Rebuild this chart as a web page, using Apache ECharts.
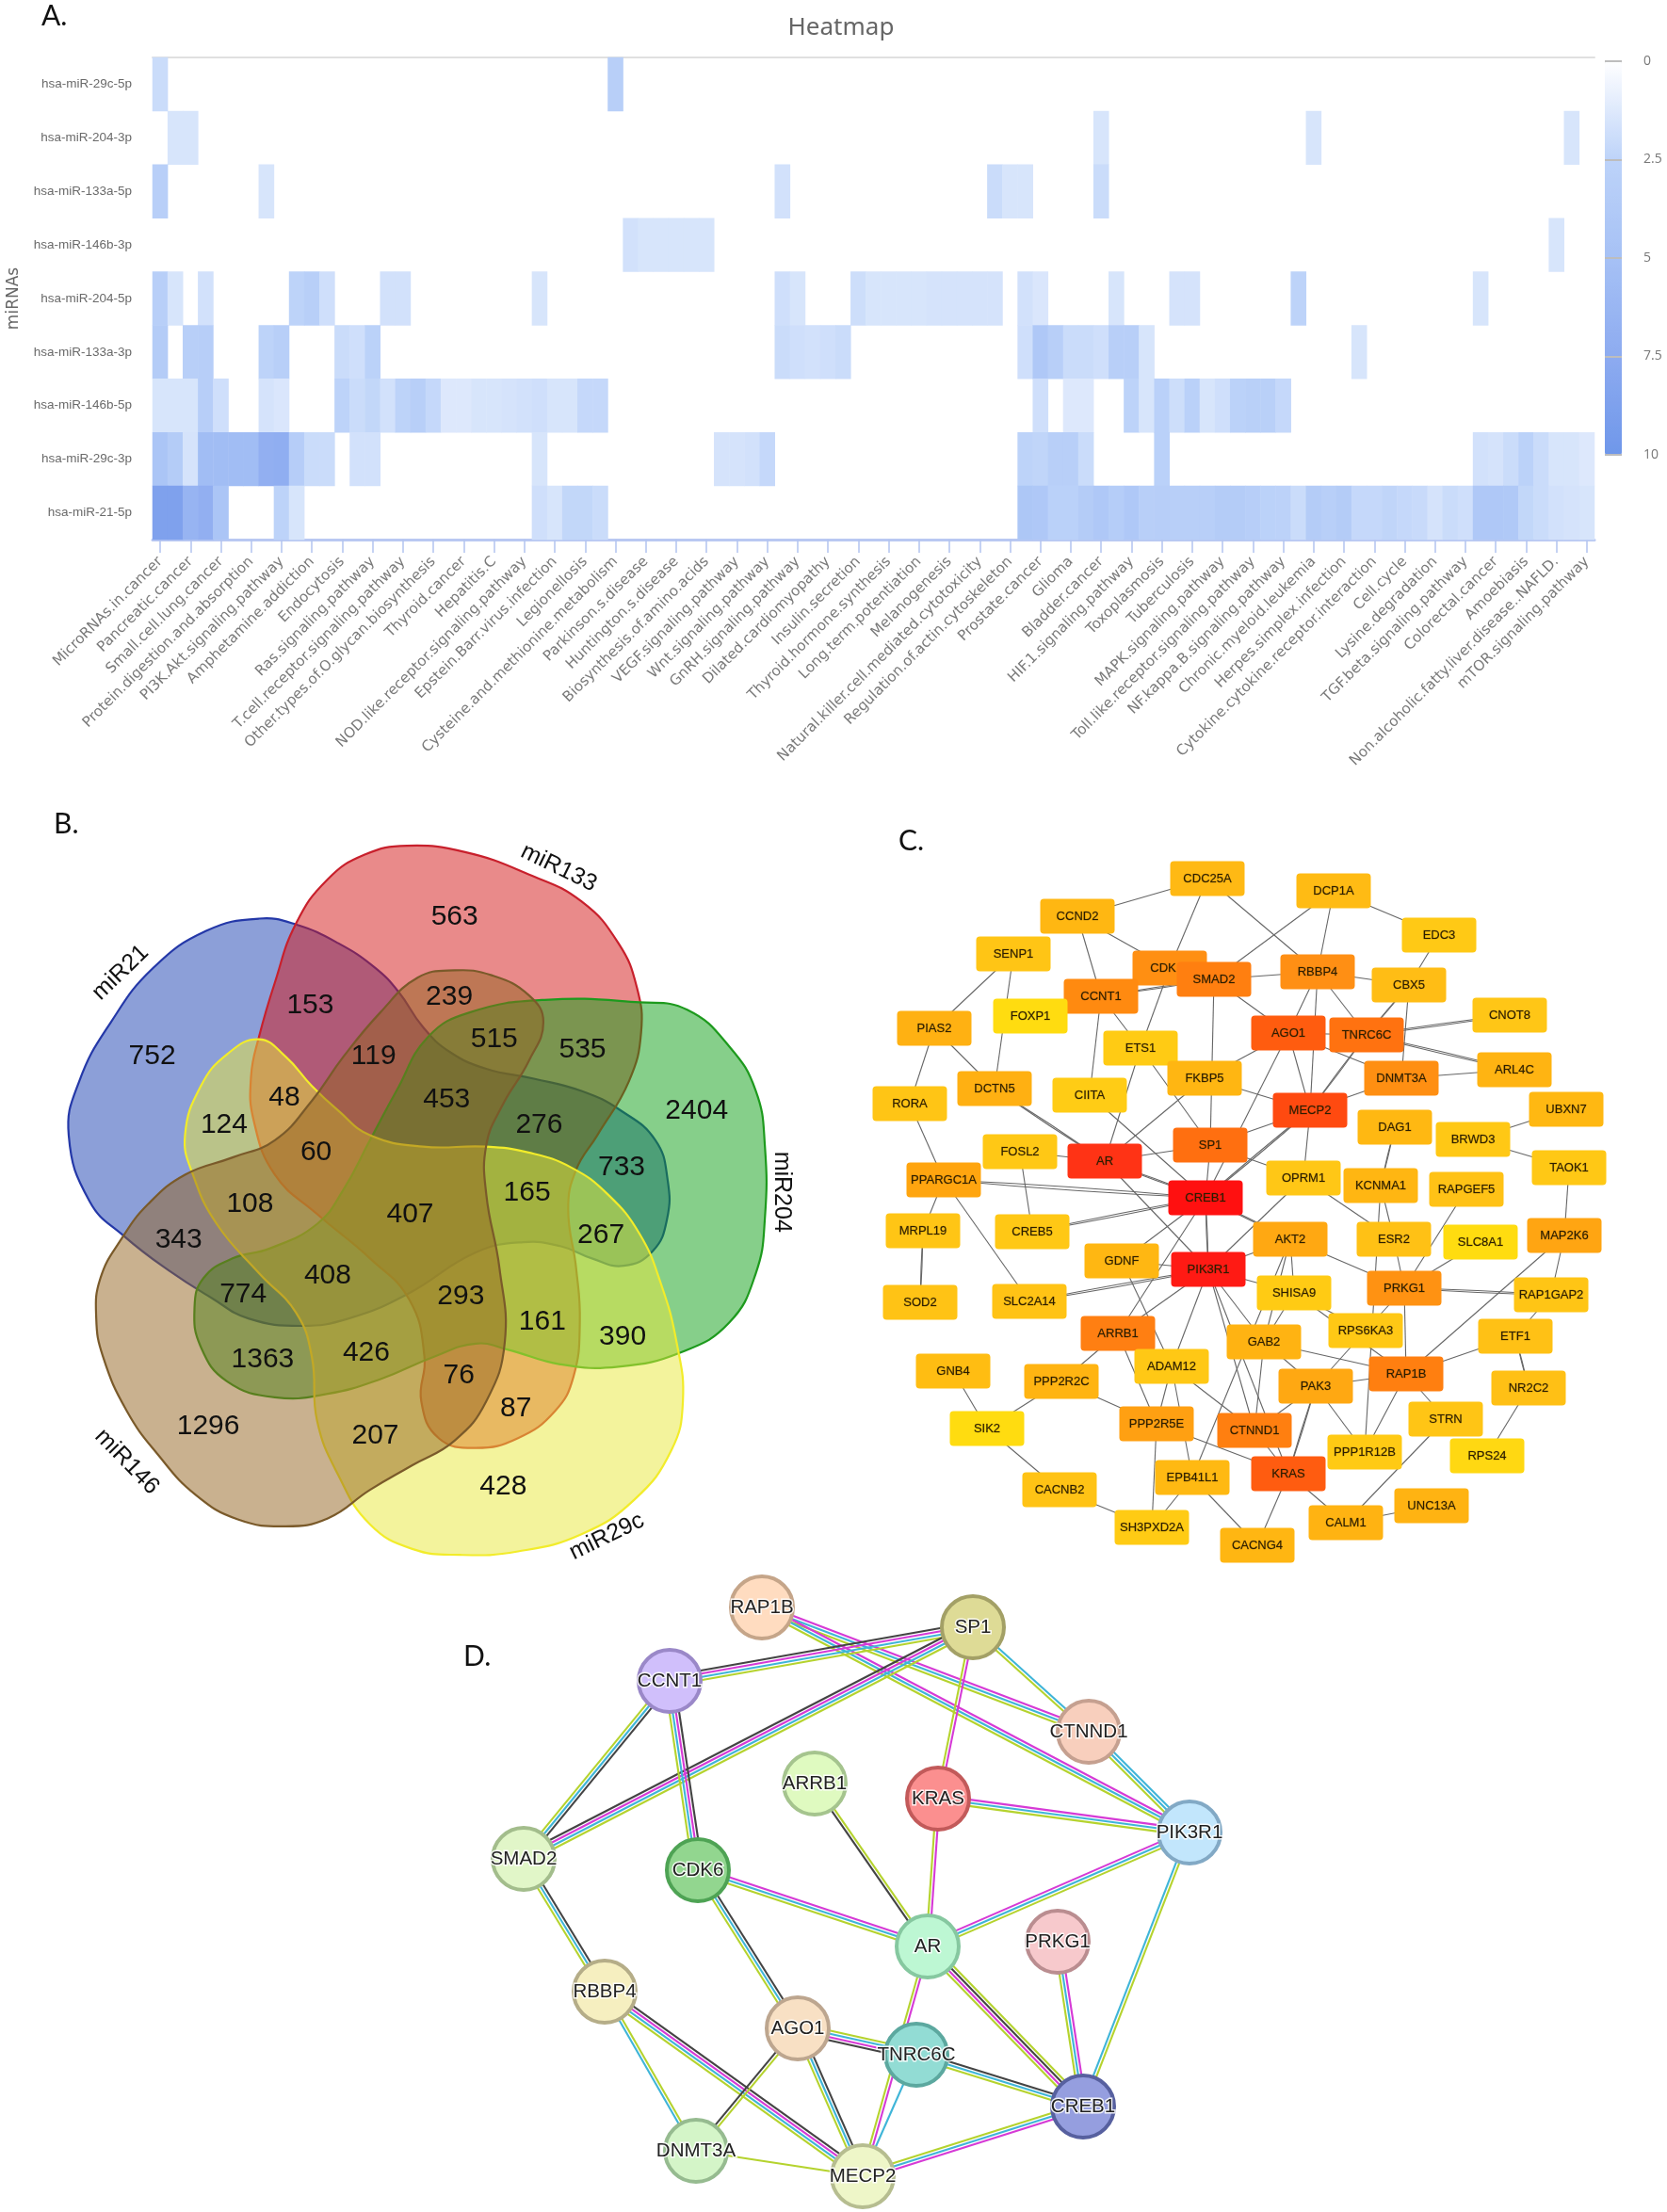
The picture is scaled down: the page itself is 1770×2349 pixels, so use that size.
<!DOCTYPE html>
<html><head><meta charset="utf-8">
<style>html,body{margin:0;padding:0;background:#fff}#c{width:1770px;height:2349px}</style>
<script src="https://cdn.jsdelivr.net/npm/echarts@6/dist/echarts.min.js"></script>
</head><body><div id="c"></div>
<script>
/* ---------- Panel A: heatmap ---------- */
const pathwayLabels = ['MicroRNAs.in.cancer','Pancreatic.cancer','Small.cell.lung.cancer','Protein.digestion.and.absorption','PI3K.Akt.signaling.pathway','Amphetamine.addiction','Endocytosis','Ras.signaling.pathway','T.cell.receptor.signaling.pathway','Other.types.of.O.glycan.biosynthesis','Thyroid.cancer','Hepatitis.C','NOD.like.receptor.signaling.pathway','Epstein.Barr.virus.infection','Legionellosis','Cysteine.and.methionine.metabolism','Parkinson.s.disease','Huntington.s.disease','Biosynthesis.of.amino.acids','VEGF.signaling.pathway','Wnt.signaling.pathway','GnRH.signaling.pathway','Dilated.cardiomyopathy','Insulin.secretion','Thyroid.hormone.synthesis','Long.term.potentiation','Melanogenesis','Natural.killer.cell.mediated.cytotoxicity','Regulation.of.actin.cytoskeleton','Prostate.cancer','Glioma','Bladder.cancer','HIF.1.signaling.pathway','Toxoplasmosis','Tuberculosis','MAPK.signaling.pathway','Toll.like.receptor.signaling.pathway','NF.kappa.B.signaling.pathway','Chronic.myeloid.leukemia','Herpes.simplex.infection','Cytokine.cytokine.receptor.interaction','Cell.cycle','Lysine.degradation','TGF.beta.signaling.pathway','Colorectal.cancer','Amoebiasis','Non.alcoholic.fatty.liver.disease..NAFLD.','mTOR.signaling.pathway'];
const mirnaLabels = ['hsa-miR-29c-5p','hsa-miR-204-3p','hsa-miR-133a-5p','hsa-miR-146b-3p','hsa-miR-204-5p','hsa-miR-133a-3p','hsa-miR-146b-5p','hsa-miR-29c-3p','hsa-miR-21-5p'];
/* each row: [first column, [values...]] runs; everything else is 0 */
const row29c5p  = [[0,[2]],[30,[3]]];
const row2043p  = [[1,[1.5,1.5]],[62,[1.5]],[76,[1.5]],[93,[1.5]]];
const row133a5p = [[0,[3]],[7,[1.5]],[41,[1.7]],[55,[2,1.5,1.5]],[62,[2]]];
const row146b3p = [[31,[1.7,1.5,1.5,1.5,1.5,1.5]],[92,[1.5]]];
const row2045p  = [[0,[3,1.5]],[3,[1.7]],[9,[2.5,3,1.8]],[15,[1.7,1.7]],[25,[1.5]],[41,[1.8,1.5]],[46,[1.9,1.5,1.5,1.5,1.5,1.6,1.6,1.6,1.6,1.6]],[57,[1.7,1.4]],[63,[1.5]],[67,[1.6,1.6]],[75,[2.5]],[87,[1.5]]];
const row133a3p = [[0,[3.5]],[2,[3,3.2]],[7,[2.5,3]],[12,[2,1.8,2.7]],[41,[2,1.8,1.7,1.8,2]],[57,[1.8,4,3,2,2,1.8,3,3,1.5]],[79,[1.5]]];
const row146b5p = [[0,[1.5,1.5,1.5,3.2,1.8]],[7,[1.6,1.4]],[12,[2.5,2,2.3,1.7,2.5,3,2.2,1.3,1.3,1.5,1.5,1.6,1.7,1.8,1.5,1.5,2.2,2.2]],[58,[1.8]],[60,[1.3,1.3]],[64,[2.5,1.5,2.8,1.9,2.8,1.5,1.8,2.7,2.9,2.9,2.2]]];
const row29c3p  = [[0,[4.5,3.5,1.6,5.5,5.5,5.5,5.5,7,7.2,3.3,2,2]],[13,[1.7,1.7]],[25,[1.5]],[37,[1.6,1.6,1.7,2.2]],[57,[2.5,2.4,3,3,2]],[66,[2.8]],[87,[1.7,1.6,2,2.7,2,1.5,1.5,1.3]]];
const row215p   = [[0,[8.7,8.7,6.5,7,4.5]],[8,[2.5,1.5]],[25,[1.8,1.5,2.3,2.3,2]],[57,[4.2,4,2.8,2.8,3.5,4,3.4,4,3,3.2,3,3,3,3.5,3.5,3.2,2.7,2.6,2,3.5,3,3.5,2.2,2.2,2.4,2.2,2.1,1.6,2,1.8,4,4,3.9,2.3,2,1.7,1.6,1.5]]];
const heatRows = [row29c5p,row2043p,row133a5p,row146b3p,row2045p,row133a3p,row146b5p,row29c3p,row215p];

/* ---------- Panel B: five-set Venn ---------- */
const vennSets = ['miR21','miR133','miR204','miR146','miR29c'];
const vennCounts = [752,153,563,239,515,535,119,48,124,60,453,276,2404,733,108,407,165,267,343,408,774,293,161,390,426,1363,76,87,1296,207,428];

/* ---------- Panel C: PPI network ---------- */
const ppiGenes = ['CDC25A','DCP1A','CCND2','EDC3','SENP1','CDK6','SMAD2','RBBP4','CBX5','CCNT1','FOXP1','PIAS2','AGO1','TNRC6C','CNOT8','ETS1','ARL4C','FKBP5','DNMT3A','DCTN5','CIITA','RORA','MECP2','UBXN7','DAG1','BRWD3','FOSL2','SP1','AR','TAOK1','PPARGC1A','OPRM1','KCNMA1','RAPGEF5','CREB1','MRPL19','CREB5','AKT2','ESR2','SLC8A1','MAP2K6','GDNF','PIK3R1','PRKG1','SHISA9','RAP1GAP2','SOD2','SLC2A14','RPS6KA3','ARRB1','ETF1','GAB2','ADAM12','GNB4','RAP1B','PPP2R2C','NR2C2','PAK3','STRN','PPP2R5E','CTNND1','SIK2','PPP1R12B','RPS24','KRAS','EPB41L1','CACNB2','UNC13A','CALM1','SH3PXD2A','CACNG4'];
const ppiEdges = 'CDC25A-CCND2 CDC25A-CDK6 CDC25A-RBBP4 CCND2-CDK6 CCND2-CCNT1 DCP1A-SMAD2 DCP1A-RBBP4 DCP1A-EDC3 EDC3-CBX5 SENP1-PIAS2 SENP1-DCTN5 CDK6-ETS1 CDK6-CCNT1 SMAD2-RBBP4 CCNT1-SMAD2 RBBP4-CBX5 RBBP4-AGO1 RBBP4-MECP2 RBBP4-TNRC6C SMAD2-AGO1 SMAD2-SP1 CBX5-TNRC6C CBX5-DNMT3A TNRC6C-CNOT8 TNRC6C-ARL4C DNMT3A-ARL4C AGO1-TNRC6C AGO1-DNMT3A AGO1-MECP2 AGO1-FKBP5 AGO1-CREB1 TNRC6C-MECP2 DNMT3A-MECP2 CCNT1-ETS1 CCNT1-CIITA ETS1-AR ETS1-SP1 PIAS2-RORA PIAS2-DCTN5 RORA-PPARGC1A DCTN5-AR FKBP5-MECP2 FKBP5-AR CIITA-CREB1 FOSL2-AR FOSL2-CREB5 AR-SP1 AR-CREB1 AR-PIK3R1 PPARGC1A-CREB1 PPARGC1A-MRPL19 PPARGC1A-SLC2A14 MRPL19-SOD2 SP1-MECP2 SP1-CREB1 SP1-OPRM1 MECP2-CREB1 MECP2-OPRM1 DAG1-KCNMA1 UBXN7-BRWD3 BRWD3-TAOK1 TAOK1-MAP2K6 OPRM1-ESR2 OPRM1-PIK3R1 CREB5-CREB1 CREB1-PIK3R1 CREB1-AKT2 CREB1-GDNF CREB1-ARRB1 GDNF-PIK3R1 GDNF-ADAM12 PIK3R1-AKT2 PIK3R1-SLC2A14 PIK3R1-SHISA9 PIK3R1-ARRB1 PIK3R1-ADAM12 PIK3R1-GAB2 PIK3R1-CTNND1 PIK3R1-KRAS AKT2-PRKG1 AKT2-GAB2 AKT2-SHISA9 AKT2-EPB41L1 KCNMA1-ESR2 KCNMA1-PPP1R12B ESR2-PRKG1 RAPGEF5-PRKG1 SLC8A1-PRKG1 MAP2K6-RAP1GAP2 MAP2K6-RAP1B PRKG1-RAP1GAP2 PRKG1-RPS6KA3 PRKG1-RAP1B SHISA9-RPS6KA3 SHISA9-RAP1B SHISA9-GAB2 RAP1GAP2-ETF1 ETF1-RAP1B ETF1-NR2C2 GAB2-RAP1B GAB2-CTNND1 GAB2-PAK3 ARRB1-PPP2R2C ARRB1-PPP2R5E ADAM12-PPP2R5E ADAM12-CTNND1 ADAM12-EPB41L1 PPP2R2C-PPP2R5E PPP2R2C-SIK2 GNB4-SIK2 SIK2-CACNB2 CACNB2-SH3PXD2A EPB41L1-SH3PXD2A EPB41L1-CACNG4 PPP2R5E-SH3PXD2A PPP2R5E-KRAS CTNND1-KRAS KRAS-CACNG4 KRAS-CALM1 UNC13A-CALM1 STRN-CALM1 STRN-RAP1B RAP1B-PPP1R12B RAP1B-PAK3 PAK3-CTNND1 PAK3-PPP1R12B PAK3-KRAS RPS6KA3-PAK3 NR2C2-RPS24'.split(' ');
const ppiMultiEdges = ['CDK6-CCNT1','CCNT1-SMAD2','CBX5-TNRC6C','TNRC6C-CNOT8','TNRC6C-ARL4C','TNRC6C-MECP2','DCTN5-AR','AR-CREB1','PPARGC1A-CREB1','MRPL19-SOD2','MECP2-CREB1','DAG1-KCNMA1','CREB5-CREB1','CREB1-PIK3R1','CREB1-AKT2','PIK3R1-SLC2A14','PRKG1-RAP1GAP2','ETF1-NR2C2','PAK3-KRAS'];

/* ---------- Panel D: STRING network ---------- */
const stringGenes = ['RAP1B','SP1','CCNT1','CTNND1','ARRB1','KRAS','PIK3R1','SMAD2','CDK6','AR','PRKG1','RBBP4','AGO1','TNRC6C','CREB1','DNMT3A','MECP2'];
/* evidence channels per edge: k black, m magenta, c cyan, g green */
const stringEdges = [['RAP1B','CTNND1','mcg'],['RAP1B','PIK3R1','mcg'],['SP1','CTNND1','cg'],['CCNT1','SP1','kmcg'],['SMAD2','SP1','kmcg'],['SP1','KRAS','mg'],['SMAD2','CCNT1','gck'],['CCNT1','CDK6','kmcg'],['CTNND1','PIK3R1','ccg'],['KRAS','PIK3R1','mcg'],['KRAS','AR','mg'],['ARRB1','AR','gk'],['CDK6','AR','mcg'],['CDK6','AGO1','kcg'],['AR','PIK3R1','mcg'],['PIK3R1','CREB1','gc'],['PRKG1','CREB1','mcg'],['AR','CREB1','gkmg'],['AR','MECP2','mg'],['SMAD2','RBBP4','kcg'],['RBBP4','MECP2','kmcg'],['RBBP4','DNMT3A','gc'],['AGO1','TNRC6C','gcmk'],['AGO1','MECP2','kcg'],['AGO1','DNMT3A','gk'],['TNRC6C','CREB1','kcg'],['TNRC6C','MECP2','c'],['MECP2','CREB1','gcm'],['DNMT3A','MECP2','g']];

/* ---------- layout and style (kept apart from the data) ---------- */
const heatColors = ['#ffffff','#bdd3f9','#a6c1f5','#8dabf0','#6f97ea'];
const vennOutlines = [
 [[490,240],[560,252],[640,290],[710,340],[755,390],[800,460],[850,510],[920,545],[1010,565],[1100,590],[1175,630],[1240,690],[1263,770],[1262,850],[1235,915],[1180,945],[1120,930],[1060,905],[990,897],[900,918],[770,1003],[660,1052],[570,1067],[470,1052],[400,1010],[320,955],[235,885],[170,815],[130,680],[150,570],[210,450],[290,340],[390,265]],
 [[770,92],[880,105],[1000,150],[1100,205],[1170,290],[1205,380],[1213,470],[1190,570],[1130,680],[1090,750],[1075,830],[1090,950],[1097,1060],[1085,1170],[1050,1240],[980,1295],[900,1315],[830,1295],[797,1220],[803,1130],[775,1015],[700,930],[600,840],[520,760],[480,650],[475,560],[490,480],[520,370],[560,250],[620,160],[690,110]],
 [[1030,405],[1210,410],[1300,425],[1380,500],[1430,590],[1447,700],[1447,850],[1430,960],[1380,1060],[1290,1120],[1170,1150],[1060,1145],[960,1115],[900,1103],[820,1130],[720,1175],[620,1205],[520,1212],[430,1180],[380,1110],[368,1030],[385,970],[440,930],[510,910],[600,860],[650,790],[700,690],[750,590],[810,480],[890,430]],
 [[540,1474],[620,1458],[700,1400],[780,1350],[860,1300],[920,1220],[955,1100],[945,950],[920,800],[920,700],[950,620],[1000,530],[1028,450],[1000,395],[930,355],[860,345],[790,360],[720,430],[650,520],[590,610],[520,690],[440,725],[350,760],[280,820],[230,890],[190,970],[182,1050],[195,1130],[240,1240],[300,1330],[370,1410],[450,1460]],
 [[870,1532],[980,1525],[1100,1490],[1200,1420],[1270,1320],[1292,1220],[1280,1100],[1250,980],[1210,880],[1150,800],[1080,745],[1000,715],[920,703],[800,703],[700,680],[640,630],[590,580],[540,520],[490,485],[430,515],[380,580],[350,680],[365,760],[410,860],[490,960],[560,1040],[590,1130],[600,1260],[640,1370],[700,1470],[780,1520]]
];
const vennFills = ['rgba(25,64,177,.5)','rgba(211,21,21,.5)','rgba(13,159,21,.5)','rgba(147,99,31,.5)','rgba(231,231,57,.5)'];
const vennStrokes = ['#2438a8','#c8202c','#1d9a1d','#7a5a2a','#f2ec2a'];
const vennDrawOrder = [0,1,2,4,3];
const vennCountXY = [[288,520],[587,417],[860,237],[850,400],[935,486],[1102,507],[707,520],[538,603],[424,660],[598,714],[845,607],[1020,660],[1318,630],[1176,746],[473,820],[776,840],[997,797],[1137,882],[338,892],[620,966],[460,1003],[872,1008],[1026,1058],[1178,1090],[693,1122],[497,1135],[868,1167],[976,1235],[394,1272],[710,1290],[952,1393]];
const vennSetXY = [[228,350,44],[1057,137,-26],[1478,795,-90],[240,1343,-46],[1148,1495,26]];
const ppiXY = [[1282,933],[1416,946],[1144,973],[1528,993],[1076,1013],[1242,1028],[1289,1040],[1399,1032],[1496,1046],[1169,1058],[1094,1079],[992,1092],[1368,1097],[1451,1099],[1603,1078],[1211,1113],[1608,1136],[1279,1145],[1488,1145],[1056,1156],[1157,1163],[966,1172],[1391,1179],[1663,1178],[1481,1197],[1564,1210],[1083,1223],[1285,1216],[1173,1233],[1666,1240],[1002,1253],[1384,1251],[1466,1259],[1557,1263],[1280,1272],[980,1307],[1096,1308],[1370,1316],[1480,1316],[1572,1319],[1661,1312],[1191,1339],[1283,1348],[1491,1368],[1374,1373],[1647,1375],[977,1383],[1093,1382],[1450,1413],[1187,1416],[1609,1419],[1342,1425],[1244,1451],[1012,1456],[1493,1459],[1127,1467],[1623,1474],[1397,1472],[1535,1507],[1228,1512],[1332,1519],[1048,1517],[1449,1542],[1579,1546],[1368,1565],[1266,1569],[1125,1582],[1520,1599],[1429,1617],[1223,1622],[1335,1641]];
const ppiColors = ['#ffb914','#ffbb14','#ffb712','#ffc915','#ffc515','#ff8f12','#ff7f10','#ff8f14','#ffbd15','#ff8a10','#ffdc10','#ffb112','#ff5c0f','#ff7210','#ffc616','#ffcb14','#ffb412','#ffb612','#ff8f12','#ffb012','#ffcc15','#ffc515','#ff4a10','#ffb812','#ffb812','#ffc815','#ffc815','#ff6f10','#ff3315','#ffc815','#ffa50f','#ffc716','#ffb612','#ffc216','#ff1010','#ffc515','#ffc815','#ffa812','#ffc115','#ffdc10','#ffa512','#ffb712','#ff1a14','#ff9212','#ffcb14','#ffc515','#ffc315','#ffc315','#ffc815','#ff7f12','#ffc115','#ffb312','#ffc815','#ffbd12','#ff7f10','#ffb412','#ffc015','#ffa812','#ffc515','#ffa012','#ff7f10','#ffdc10','#ffca14','#ffd812','#ff5c10','#ffb912','#ffc315','#ffb312','#ffb312','#ffcb14','#ffb612'];
const ppiNodePath = 'path://M4,0H75A4,4 0 0 1 79,4V33A4,4 0 0 1 75,37H4A4,4 0 0 1 0,33V4A4,4 0 0 1 4,0Z';
const stringXY = [[809,1707],[1033,1728],[711,1785],[1156,1839],[865,1894],[996,1910],[1263,1946],[556,1974],[741,1986],[985,2067],[1123,2062],[642,2115],[847,2154],[973,2182],[1150,2237],[739,2284],[916,2311]];
const stringFills = ['#ffdcc0','#dedb96','#d0bffb','#f8cfbd','#dffac0','#fb8f8f','#c2e6fc','#e1f6c8','#92d68f','#bdf7d3','#f7c9cc','#f6efc0','#f8e0c4','#92dcd4','#959edf','#d4f5c8','#eef6c8'];
const stringBorders = ['#c5a589','#a3a066','#9a88c8','#c5a090','#a5c48e','#c25a5a','#82a9c5','#a3bd8c','#4ea354','#86c8a0','#ba8d90','#b5ad88','#bda68f','#5ca89f','#57609f','#96bb90','#b6bd90'];
const channelColors = {k:'#444444',m:'#d63ad6',c:'#3fb5d8',g:'#b5d32e'};
const panelLetters = [['A.',44,17],['B.',57,875],['C.',954,893],['D.',492,1759]];

/* ---------- build ---------- */
const categories = [];
pathwayLabels.forEach((l,i)=>{categories.push(l); if(i<pathwayLabels.length-1) categories.push('');});
const heatData = [];
heatRows.forEach((runs,r)=>runs.forEach(([start,vals])=>vals.forEach((v,k)=>heatData.push([start+k,r,v]))));
const ppiLinks = [];
ppiEdges.forEach(e=>{const [s,t]=e.split('-');
  if(ppiMultiEdges.includes(e)){ppiLinks.push({source:s,target:t,lineStyle:{curveness:0.012}},{source:s,target:t,lineStyle:{curveness:-0.012}});}
  else ppiLinks.push({source:s,target:t});});

const pageAxisX = i=>({gridIndex:i,type:'value',show:false,min:0,max:1770});
const pageAxisY = i=>({gridIndex:i,type:'value',show:false,min:0,max:2349,inverse:true});
const sans = 'Liberation Sans';
const vennGeom = (i,api)=>vennOutlines[i].map(q=>api.coord(q));

const option = {
 animation:false, backgroundColor:'#fff',
 title:{text:'Heatmap',left:888,top:12,textAlign:'center',textStyle:{fontFamily:'Noto Sans',fontSize:26,fontWeight:'normal',color:'#666'}},
 graphic:panelLetters.map(([t,x,y])=>({type:'text',x,y,z:20,style:{text:t,fontFamily:'Lato',fontSize:30,fill:'#111',textVerticalAlign:'middle'}})),
 visualMap:{type:'continuous',seriesIndex:0,min:0,max:10,left:1704,top:65,itemWidth:18,itemHeight:418,padding:0,inverse:true,calculable:false,text:null,inRange:{color:heatColors}},
 grid:[
  {left:162,top:61,width:1531,height:512,outerBoundsMode:'none'},
  {left:1704,top:65,width:18,height:418,outerBoundsMode:'none'},
  {left:0,top:850,width:880,height:820,outerBoundsMode:'none'},
  {left:0,top:0,width:1770,height:2349,outerBoundsMode:'none'}
 ],
 xAxis:[
  {gridIndex:0,type:'category',data:categories,position:'bottom',axisLine:{lineStyle:{color:'#b9c8f2',width:3}},
   axisTick:{show:true,interval:1,alignWithLabel:true,length:14,lineStyle:{color:'#b3c3f0',width:1.5}},
   axisLabel:{interval:1,rotate:45,margin:21,fontFamily:'DejaVu Sans',fontSize:15.3,color:'#7a7a7a'}},
  {gridIndex:0,type:'value',position:'top',min:0,max:1,axisLine:{show:true,lineStyle:{color:'#e0e0e0',width:2}},axisTick:{show:false},axisLabel:{show:false},splitLine:{show:false}},
  {gridIndex:1,type:'value',show:false,min:0,max:1},
  {gridIndex:2,type:'value',show:false,min:0,max:1568},
  pageAxisX(3)
 ],
 yAxis:[
  {gridIndex:0,type:'category',data:mirnaLabels,inverse:true,name:'miRNAs',nameLocation:'middle',nameRotate:90,nameGap:139,nameTextStyle:{fontFamily:'DejaVu Sans',fontSize:17,color:'#666'},
   axisLine:{show:false},axisTick:{show:false},axisLabel:{margin:22,fontFamily:sans,fontSize:13.5,color:'#6a6a6a'}},
  {gridIndex:1,type:'value',position:'right',inverse:true,min:0,max:10,interval:2.5,z:10,axisLine:{show:false},axisTick:{show:false},
   axisLabel:{margin:23,fontFamily:'Open Sans',fontSize:14,color:'#777'},splitLine:{show:true,lineStyle:{color:'#bdbdbd',width:2}}},
  {gridIndex:2,type:'value',show:false,min:0,max:1568,inverse:true},
  pageAxisY(3)
 ],
 series:[
  {type:'heatmap',xAxisIndex:0,yAxisIndex:0,data:heatData,progressive:0,itemStyle:{borderWidth:0}},
  {type:'custom',xAxisIndex:3,yAxisIndex:2,coordinateSystem:'cartesian2d',data:vennDrawOrder.map(i=>[i,i]),z:3,
   renderItem:(p,api)=>{const i=vennDrawOrder[p.dataIndex];return {type:'polygon',shape:{points:vennGeom(i,api),smooth:0.45},style:{fill:vennFills[i],stroke:vennStrokes[i],lineWidth:2.2}};}},
  {type:'custom',xAxisIndex:3,yAxisIndex:2,coordinateSystem:'cartesian2d',data:vennCounts.map((v,i)=>[i,v]),z:4,
   renderItem:(p,api)=>{const c=api.coord(vennCountXY[p.dataIndex]);return {type:'text',x:c[0],y:c[1],style:{text:String(vennCounts[p.dataIndex]),fontFamily:sans,fontSize:30,fill:'#111',textAlign:'center',textVerticalAlign:'middle'}};}},
  {type:'custom',xAxisIndex:3,yAxisIndex:2,coordinateSystem:'cartesian2d',data:vennSets.map((n,i)=>[i,i]),z:4,
   renderItem:(p,api)=>{const s=vennSetXY[p.dataIndex],c=api.coord(s);return {type:'text',x:c[0],y:c[1],rotation:s[2]*Math.PI/180,style:{text:vennSets[p.dataIndex],fontFamily:sans,fontSize:25,fill:'#111',textAlign:'center',textVerticalAlign:'middle'}};}},
  {type:'graph',coordinateSystem:'cartesian2d',xAxisIndex:4,yAxisIndex:3,layout:'none',z:3,
   symbol:ppiNodePath,symbolSize:[79,37],edgeSymbol:['none','none'],
   label:{show:true,position:'inside',formatter:'{b}',fontFamily:sans,fontSize:13,color:'#2b1d00',textBorderColor:'rgba(43,29,0,.45)',textBorderWidth:0.5},
   lineStyle:{color:'#666',width:1.1,opacity:1,curveness:0},
   data:ppiGenes.map((g,i)=>{const n={name:g,value:ppiXY[i],itemStyle:{color:ppiColors[i]}};
     if(g==='CDK6')n.label={formatter:'CDK',offset:[-7,0]};return n;}),
   links:ppiLinks},
  {type:'custom',xAxisIndex:4,yAxisIndex:3,coordinateSystem:'cartesian2d',data:stringEdges.map((e,i)=>[i,i]),z:3,
   renderItem:(p,api)=>{const e=stringEdges[p.dataIndex],a=api.coord(stringXY[stringGenes.indexOf(e[0])]),b=api.coord(stringXY[stringGenes.indexOf(e[1])]);
     const dx=b[0]-a[0],dy=b[1]-a[1],L=Math.hypot(dx,dy),nx=-dy/L,ny=dx/L,gap=3.4,ch=e[2].split('');
     return {type:'group',children:ch.map((k,j)=>{const o=(j-(ch.length-1)/2)*gap;return {type:'line',shape:{x1:a[0]+nx*o,y1:a[1]+ny*o,x2:b[0]+nx*o,y2:b[1]+ny*o},style:{stroke:channelColors[k],lineWidth:2.1}};})};}},
  {type:'scatter',xAxisIndex:4,yAxisIndex:3,z:5,symbolSize:66,
   data:stringGenes.map((g,i)=>({name:g,value:stringXY[i],itemStyle:{color:stringFills[i],borderColor:stringBorders[i],borderWidth:4,opacity:1}})),
   label:{show:true,position:'inside',formatter:'{b}',fontFamily:sans,fontSize:20.5,color:'#222',textBorderColor:'rgba(255,255,255,.85)',textBorderWidth:3}}
 ]
};
echarts.init(document.getElementById('c'),null,{renderer:'canvas'}).setOption(option);
</script></body></html>
